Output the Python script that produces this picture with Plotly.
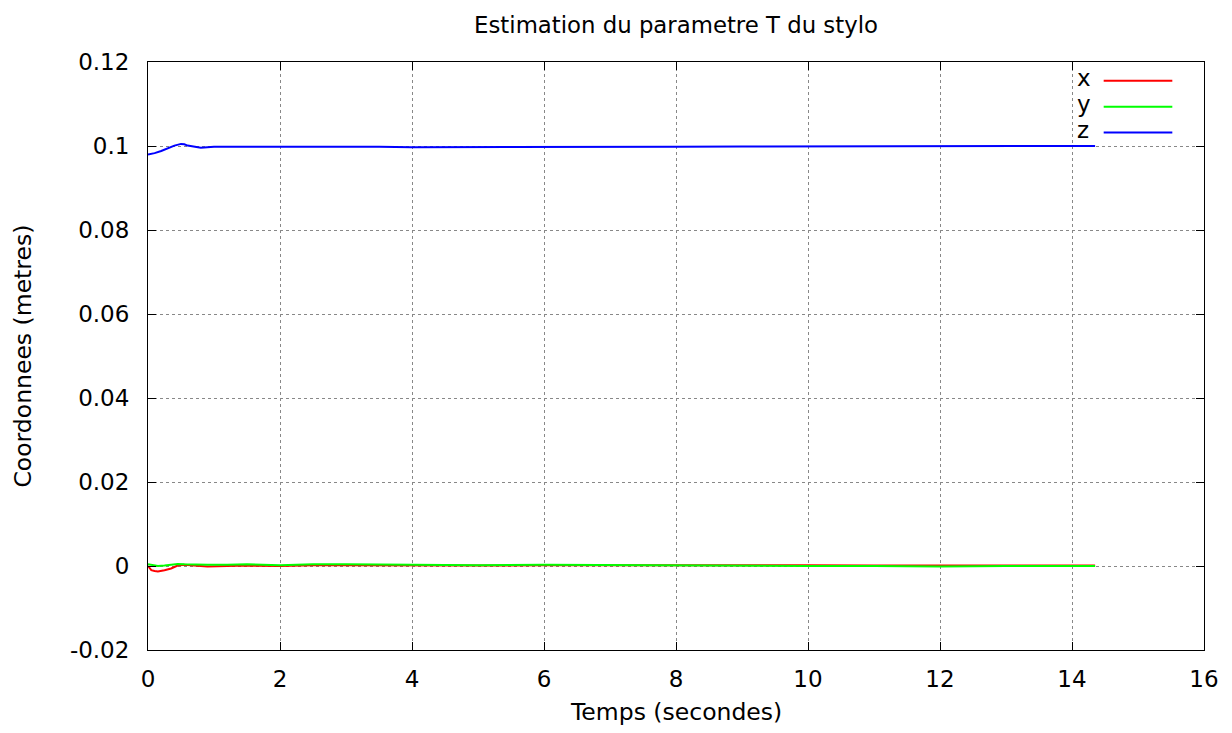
import plotly.graph_objects as go

t_z = [0, 0.05, 0.1, 0.2, 0.3, 0.4, 0.5, 0.55, 0.6, 0.7, 0.8, 0.9, 1.0, 1.5, 2.0, 2.5, 3.0, 3.5, 4.0, 5.0, 5.5, 6.0, 7.0, 8.0, 9.0, 10.0, 11.0, 12.0, 13.0, 14.0, 14.35]
z_vals = [0.0980, 0.0981, 0.0983, 0.0988, 0.0995, 0.1001, 0.1005, 0.1004, 0.1001, 0.0999, 0.0996, 0.0997, 0.0998, 0.0998, 0.0998, 0.0998, 0.0999, 0.0998, 0.0997, 0.0997, 0.0998, 0.0997, 0.0997, 0.0998, 0.0999, 0.0999, 0.0999, 0.1000, 0.1000, 0.1000, 0.1000]

t_xy = [0, 0.05, 0.1, 0.15, 0.25, 0.35, 0.45, 0.55, 0.7, 0.9, 1.2, 1.5, 2, 2.5, 3, 4, 5, 6, 7, 8, 9, 10, 11, 12, 13, 14, 14.35]
x_vals = [0.0000, -0.0010, -0.0012, -0.0013, -0.0010, -0.0006, 0.0001, 0.0003, 0.0001, -0.0001, 0.0000, 0.0001, 0.0000, 0.0002, 0.0002, 0.0001, 0.0001, 0.0002, 0.0002, 0.0003, 0.0002, 0.0002, 0.0001, 0.0001, 0.0001, 0.0001, 0.0001]
y_vals = [0.0004, 0.0003, 0.0002, 0.0000, 0.0001, 0.0003, 0.0005, 0.0004, 0.0003, 0.0003, 0.0003, 0.0004, 0.0002, 0.0004, 0.0004, 0.0003, 0.0002, 0.0003, 0.0002, 0.0001, 0.0000, 0.0000, 0.0000, -0.0001, 0.0000, 0.0000, 0.0000]

series_names = ["x", "y", "z"]
series_colors = ["#ff0000", "#00ff00", "#0000ff"]
x_ticks = [0, 2, 4, 6, 8, 10, 12, 14, 16]
y_ticks = [-0.02, 0, 0.02, 0.04, 0.06, 0.08, 0.1, 0.12]
y_tick_text = ["-0.02", "0", "0.02", "0.04", "0.06", "0.08", "0.1", "0.12"]

fig = go.Figure()
for name, tt, vv, col in zip(series_names, [t_xy, t_xy, t_z], [x_vals, y_vals, z_vals], series_colors):
    fig.add_trace(go.Scatter(x=tt, y=vv, mode="lines", name=name,
                             line=dict(color=col, width=2), showlegend=False))

font = "DejaVu Sans, sans-serif"
axis_common = dict(showline=True, linecolor="black", linewidth=1, mirror="ticks",
                   ticks="inside", ticklen=8, tickcolor="black",
                   showgrid=True, gridcolor="#888888", griddash="dot", gridwidth=1,
                   zeroline=False, tickfont=dict(size=23, color="black", family=font))
fig.update_xaxes(range=[0, 16], tickvals=x_ticks, ticktext=[str(v) for v in x_ticks],
                 ticklabelstandoff=8, **axis_common)
fig.update_yaxes(range=[-0.02, 0.12], tickvals=y_ticks, ticktext=y_tick_text,
                 ticklabelstandoff=13, **axis_common)

# axis titles
fig.add_annotation(xref="paper", yref="paper", x=0.5, y=-0.106, text="Temps (secondes)", showarrow=False,
                   xanchor="center", yanchor="middle", font=dict(size=23.5, family=font, color="black"))
fig.add_annotation(xref="paper", yref="paper", x=-0.1188, y=0.5, text="Coordonnees (metres)", showarrow=False,
                   textangle=-90, xanchor="center", yanchor="middle", font=dict(size=23.5, family=font, color="black"))

# legend: label then line sample (gnuplot style)
leg_y = [0.968, 0.924, 0.880]
for name, col, yy in zip(series_names, series_colors, leg_y):
    fig.add_annotation(xref="paper", yref="paper", x=0.878, y=yy + 0.004, text=name, showarrow=False,
                       xanchor="left", yanchor="middle", font=dict(size=23, family=font, color="black"))
    fig.add_shape(type="line", xref="paper", yref="paper", x0=0.905, x1=0.970, y0=yy, y1=yy,
                  line=dict(color=col, width=2))

fig.update_layout(
    width=1232, height=733,
    margin=dict(l=140, r=36, t=54, b=91),
    plot_bgcolor="white", paper_bgcolor="white",
    title=dict(text="Estimation du parametre T du stylo", x=0.5, xref="paper", xanchor="center",
               y=1 - 17 / 733, yref="container", yanchor="middle",
               font=dict(size=22.8, family=font, color="black")),
)

fig.write_html("out.html")
